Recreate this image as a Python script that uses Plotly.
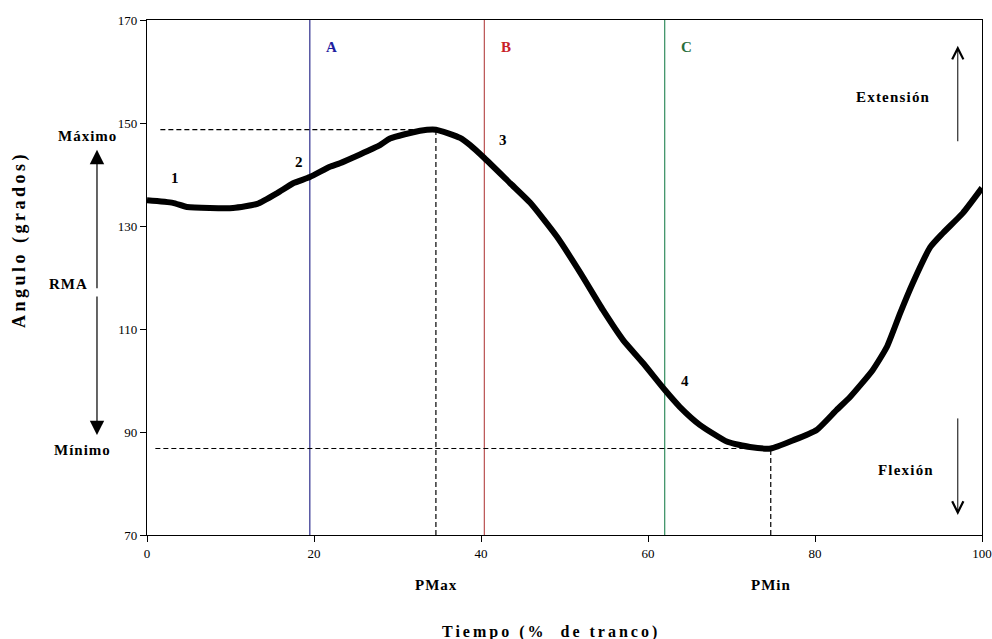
import plotly.graph_objects as go

# Knee angle over the stride cycle
tiempo = [0, 3.1, 4.8, 10.3, 13.2, 15.6, 17.5, 19.5, 21.9, 23.1, 27.9, 29.1, 32.7,
          34.6, 37.5, 38.7, 40.4, 43.5, 45.9, 49.1, 51.9, 54.6, 57.0, 59.4, 62.0,
          63.8, 66.2, 69.5, 72.2, 74.7, 77.4, 80.2, 82.6, 84.2, 86.9, 88.6, 90.2,
          91.7, 93.8, 95.3, 97.7, 100]
angulo = [135.0, 134.5, 133.7, 133.5, 134.3, 136.4, 138.3, 139.5, 141.5, 142.2,
          145.7, 147.0, 148.5, 148.7, 147.1, 145.7, 143.2, 138.3, 134.5, 127.9,
          120.9, 113.7, 107.9, 103.4, 98.2, 94.9, 91.4, 88.1, 87.1, 86.8, 88.4,
          90.4, 94.3, 96.8, 102.0, 106.5, 113.1, 118.9, 125.9, 128.6, 132.5, 137.4]

# Phase boundaries
fase_x = [19.5, 40.4, 62.0]
fase_txt = ["A", "B", "C"]
fase_linea = ["rgb(45,45,140)", "rgb(185,80,80)", "rgb(50,140,95)"]
fase_color = ["rgb(30,30,160)", "rgb(200,30,40)", "rgb(40,110,60)"]

# Numbered points on the curve
punto_txt = ["1", "2", "3", "4"]
punto_x = [3.4, 18.2, 42.6, 64.4]
punto_y = [139.3, 142.4, 146.7, 99.9]

x_ticks = [0, 20, 40, 60, 80, 100]
y_ticks = [70, 90, 110, 130, 150, 170]

y_max = max(angulo)
x_pmax = tiempo[angulo.index(y_max)]
y_min = min(angulo)
x_pmin = tiempo[angulo.index(y_min)]

SERIF = "Liberation Serif"

fig = go.Figure()
fig.add_trace(go.Scatter(
    x=tiempo, y=angulo, mode="lines",
    line=dict(color="black", width=6, shape="spline", smoothing=0.5),
    hoverinfo="skip", showlegend=False,
))

shapes = []
for xv, col in zip(fase_x, fase_linea):
    shapes.append(dict(type="line", xref="x", yref="y", x0=xv, x1=xv, y0=70, y1=170,
                       line=dict(color=col, width=1.2), layer="below"))

dash = "5px,3px"
shapes += [
    dict(type="line", xref="x", yref="y", x0=1.6, x1=x_pmax, y0=y_max, y1=y_max,
         line=dict(color="black", width=1.2, dash=dash)),
    dict(type="line", xref="x", yref="y", x0=x_pmax, x1=x_pmax, y0=70, y1=y_max,
         line=dict(color="black", width=1.2, dash=dash)),
    dict(type="line", xref="x", yref="y", x0=1.0, x1=x_pmin, y0=y_min, y1=y_min,
         line=dict(color="black", width=1.2, dash=dash)),
    dict(type="line", xref="x", yref="y", x0=x_pmin, x1=x_pmin, y0=70, y1=y_min,
         line=dict(color="black", width=1.2, dash=dash)),
]


def label(x, y, text, xref="paper", yref="paper", size=15, color="black", angle=0,
          spacing=0):
    body = f"<b>{text}</b>"
    if spacing:
        body = f"<span style='letter-spacing:{spacing}px'>{body}</span>"
    return dict(x=x, y=y, xref=xref, yref=yref, text=body, showarrow=False,
                xanchor="center", yanchor="middle", textangle=angle,
                font=dict(family=SERIF, size=size, color=color))


ann = []
for xv, t, c in zip(fase_x, fase_txt, fase_color):
    ann.append(label(xv + 2.6, 164.8, t, "x", "y", 15, c))
for t, xv, yv in zip(punto_txt, punto_x, punto_y):
    ann.append(label(xv, yv, t, "x", "y", 15))

ann += [
    label(-0.0707, 0.775, "Máximo", spacing=1),
    label(-0.0778, 0.165, "Mínimo", spacing=1),
    label(-0.0946, 0.487, "RMA", spacing=1),
    label(x_pmax, -0.097, "PMax", "x", "paper", spacing=1),
    label(x_pmin, -0.097, "PMin", "x", "paper", spacing=1),
    label(0.893, 0.850, "Extensión", spacing=1.2),
    label(0.909, 0.126, "Flexión", spacing=1.2),
    label(-0.152, 0.573, "Angulo (grados)", size=18, angle=-90, spacing=3.5),
    label(0.484, -0.188, "Tiempo (%  de tranco)", size=16, spacing=3),
]

# Range-of-motion double arrow (left) and direction arrows (right)
ann += [
    dict(x=-0.0599, y=144.8, xref="paper", yref="y", ax=0, ay=140, text="",
         showarrow=True, arrowhead=2, arrowsize=2.4, arrowwidth=1.2, arrowcolor="black"),
    dict(x=-0.0599, y=89.4, xref="paper", yref="y", ax=0, ay=-140, text="",
         showarrow=True, arrowhead=2, arrowsize=2.4, arrowwidth=1.2, arrowcolor="black"),
    dict(x=0.971, y=165.0, xref="paper", yref="y", ax=0, ay=97, text="",
         showarrow=True, arrowhead=5, arrowsize=2.2, arrowwidth=1, arrowcolor="black"),
    dict(x=0.971, y=73.9, xref="paper", yref="y", ax=0, ay=-98, text="",
         showarrow=True, arrowhead=5, arrowsize=2.2, arrowwidth=1, arrowcolor="black"),
]

axis_common = dict(showline=True, linecolor="black", linewidth=1.2, mirror=True,
                   showgrid=False, zeroline=False, ticks="outside", ticklen=6,
                   tickcolor="black", tickwidth=1.2, automargin=False,
                   tickfont=dict(family=SERIF, size=13, color="black"))

fig.update_layout(
    width=992, height=639,
    margin=dict(l=147, r=10, t=20, b=104),
    paper_bgcolor="white", plot_bgcolor="white",
    xaxis=dict(range=[0, 100], tickvals=x_ticks, **axis_common),
    yaxis=dict(range=[70, 170], tickvals=y_ticks, **axis_common),
    shapes=shapes, annotations=ann,
)

fig.write_html("out.html")
